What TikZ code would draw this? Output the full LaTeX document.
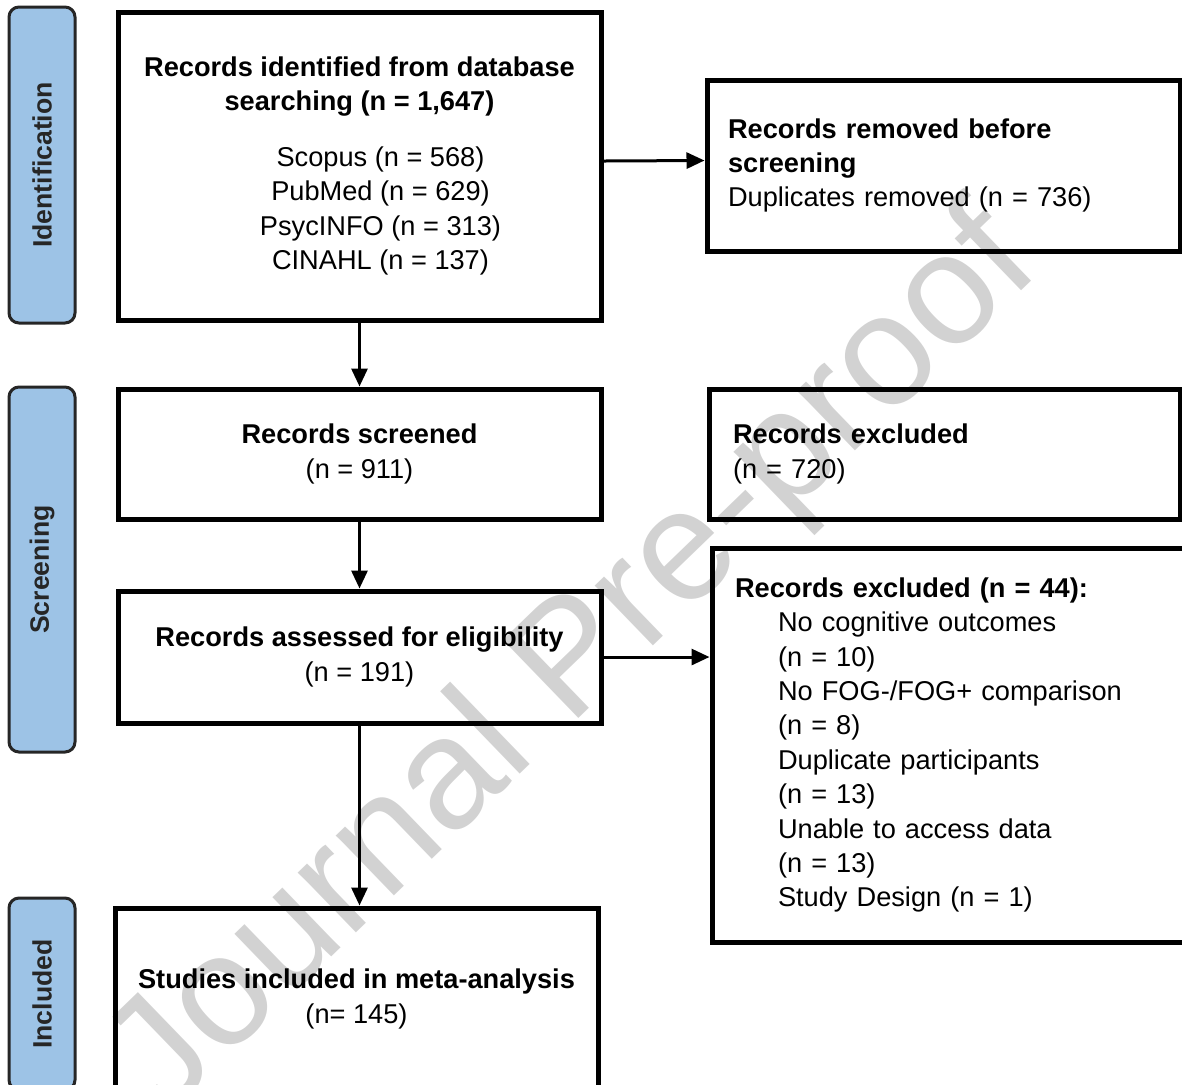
\documentclass[tikz,border=0pt]{standalone}
\usepackage{fontspec}
\setmainfont{Liberation Sans}
\usetikzlibrary{arrows.meta,positioning}
\definecolor{tabblue}{HTML}{9DC3E6}
\tikzset{
  box/.style={draw, line width=2.5pt, font=\fontsize{13.6}{17.2}\selectfont},
  cbox/.style={box, align=center, minimum width=241.5pt},
  lbox/.style={box, align=left, inner ysep=0pt},
  phase/.style={draw=black!85, line width=1.5pt, fill=tabblue, rounded corners=5pt,
    rotate=90, minimum height=33pt, text=black!85, font=\fontsize{13.3}{16}\selectfont\bfseries},
  arr/.style={line width=1.5pt, -{Triangle[length=9pt,width=8pt]}},
  wmark/.style={rotate=44, text=gray!35, font=\fontsize{79}{79}\selectfont}
}
\begin{document}
\begin{tikzpicture}[x=0.5pt,y=-0.5pt]
\useasboundingbox (0,0) rectangle (1182,1084);
\node[wmark] (wm) at (576,664) {Journal Pre-proof};
% phase tabs
\foreach \nm/\cy/\len/\lab in {tabid/165/158/Identification, tabscr/569.5/182.5/Screening, tabinc/994/96/Included} {
  \node[phase, minimum width=\len pt] (\nm) at (42,\cy) {\lab};
}
% main column
\node[cbox, minimum height=154pt] (ident) at (359.5,166) {\textbf{Records identified from database}\\
  \textbf{searching (n = 1,647)}\\[10.5pt]
  \hspace*{21pt}Scopus (n = 568)\\
  \hspace*{21pt}PubMed (n = 629)\\
  \hspace*{21pt}PsycINFO (n = 313)\\
  \hspace*{21pt}CINAHL (n = 137)};
\node[cbox, minimum height=65pt] (screened) at (359.5,454) {\textbf{Records screened}\\(n = 911)};
\node[cbox, minimum height=66pt] (assessed) at (359.5,657) {\textbf{Records assessed for eligibility}\\(n = 191)};
\node[cbox, minimum height=91pt] (incl) at (356.5,999) {\textbf{Studies included in meta-analysis}\\(n= 145)};
% side column
\node[lbox, text width=215.5pt, inner xsep=10.5pt, minimum height=85.5pt] (removed) at (943.5,165.5)
  {\textbf{Records removed before}\\\textbf{screening}\\Duplicates removed (n = 736)};
\node[lbox, text width=211.5pt, inner xsep=12pt, minimum height=65pt] (excl) at (944.5,454)
  {\textbf{Records excluded}\\(n = 720)};
\node[lbox, text width=226pt, inner xsep=11.5pt, minimum height=197pt] (exclelig) at (961,745)
  {\textbf{Records excluded (n = 44):}\\
  \hspace*{21.5pt}No cognitive outcomes\\
  \hspace*{21.5pt}(n = 10)\\
  \hspace*{21.5pt}No FOG-/FOG+ comparison\\
  \hspace*{21.5pt}(n = 8)\\
  \hspace*{21.5pt}Duplicate participants\\
  \hspace*{21.5pt}(n = 13)\\
  \hspace*{21.5pt}Unable to access data\\
  \hspace*{21.5pt}(n = 13)\\
  \hspace*{21.5pt}Study Design (n = 1)};
% arrows
\draw[arr] ([yshift=2.5pt]ident.east) -- ([yshift=2.5pt]removed.west);
\draw[arr] (ident) -- (screened);
\draw[arr] (screened) -- (assessed);
\draw[arr] (assessed.east) -- (assessed.east -| exclelig.west);
\draw[arr] (assessed.south) -- (assessed.south |- incl.north);
\end{tikzpicture}
\end{document}
